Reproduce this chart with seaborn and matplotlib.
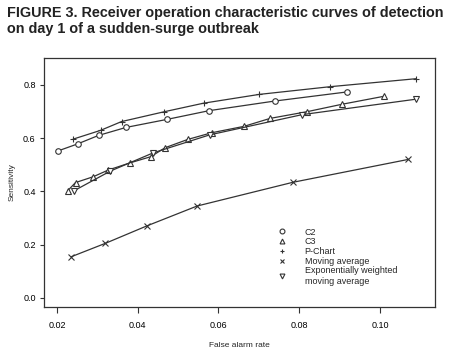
import matplotlib
matplotlib.use("Agg")
import matplotlib.pyplot as plt
from matplotlib.lines import Line2D
import seaborn as sns

# values
c2_x = [0.0203, 0.0251, 0.0303, 0.0371, 0.0472, 0.0577, 0.0739, 0.0917]
c2_y = [0.552, 0.578, 0.610, 0.640, 0.670, 0.703, 0.739, 0.773]

c3_x = [0.0227, 0.0246, 0.0290, 0.0327, 0.0381, 0.0432, 0.0468, 0.0524, 0.0583,
        0.0663, 0.0728, 0.0819, 0.0906, 0.1010]
c3_y = [0.403, 0.433, 0.455, 0.480, 0.507, 0.530, 0.564, 0.595, 0.620,
        0.644, 0.674, 0.699, 0.727, 0.757]

pchart_x = [0.0240, 0.0308, 0.0360, 0.0466, 0.0563, 0.0701, 0.0877, 0.1090]
pchart_y = [0.596, 0.629, 0.662, 0.699, 0.731, 0.764, 0.793, 0.823]

ma_x = [0.0236, 0.0320, 0.0422, 0.0547, 0.0784, 0.1070]
ma_y = [0.155, 0.205, 0.270, 0.345, 0.434, 0.520]

ewma_x = [0.0242, 0.0332, 0.0439, 0.0578, 0.0807, 0.1089]
ewma_y = [0.402, 0.476, 0.545, 0.612, 0.688, 0.746]

labels = ["C2", "C3", "P-Chart", "Moving average",
          "Exponentially weighted\nmoving average"]

sns.set_style("ticks")
plt.rcParams["font.family"] = ["Liberation Sans", "DejaVu Sans"]

ink = "#333333"
fig = plt.figure(figsize=(4.58, 3.61), dpi=100)
ax = fig.add_axes([44 / 458, 1 - 307 / 361, 391 / 458, 249 / 361])

series = [(c2_x, c2_y, "o"), (c3_x, c3_y, "^"), (pchart_x, pchart_y, "+"),
          (ma_x, ma_y, "x"), (ewma_x, ewma_y, "v")]
for xs, ys, m in series:
    sns.lineplot(x=xs, y=ys, ax=ax, color=ink, lw=0.9, marker=m, markersize=4,
                 markerfacecolor="white", markeredgecolor=ink, markeredgewidth=0.8,
                 sort=False, estimator=None)

ax.set_xlim(0.0168, 0.1136)
ax.set_ylim(-0.034, 0.9006)
ax.set_xticks([0.02, 0.04, 0.06, 0.08, 0.10])
ax.set_xticklabels(["0.02", "0.04", "0.06", "0.08", "0.10"])
ax.set_yticks([0.0, 0.2, 0.4, 0.6, 0.8])
ax.set_yticklabels(["0.0", "0.2", "0.4", "0.6", "0.8"])
ax.tick_params(labelsize=6.5, length=4, width=0.8, color=ink, labelcolor="black")
ax.tick_params(axis="x", pad=6)
ax.tick_params(axis="y", length=3, pad=3)
for s in ax.spines.values():
    s.set_color(ink)
    s.set_linewidth(0.9)
ax.set_xlabel("False alarm rate", fontsize=6, labelpad=9)
ax.set_ylabel("Sensitivity", fontsize=6, labelpad=5)

handles = [Line2D([], [], ls="none", marker=m, color=ink, markersize=3.5,
                  markerfacecolor="white", markeredgewidth=0.8) for _, _, m in series]
leg = fig.legend(handles, labels, loc="upper left", bbox_to_anchor=(273 / 458, 1 - 223 / 361),
                 frameon=False, fontsize=6.5, handlelength=1.0, handletextpad=2.0,
                 labelspacing=0.08, borderpad=0)

fig.text(7 / 458, 1 - 6 / 361,
         "FIGURE 3. Receiver operation characteristic curves of detection\non day 1 of a sudden-surge outbreak",
         fontsize=10.4, fontweight="bold", va="top", ha="left", linespacing=1.2,
         color="#222222")

fig.savefig("out.png", dpi=100)
